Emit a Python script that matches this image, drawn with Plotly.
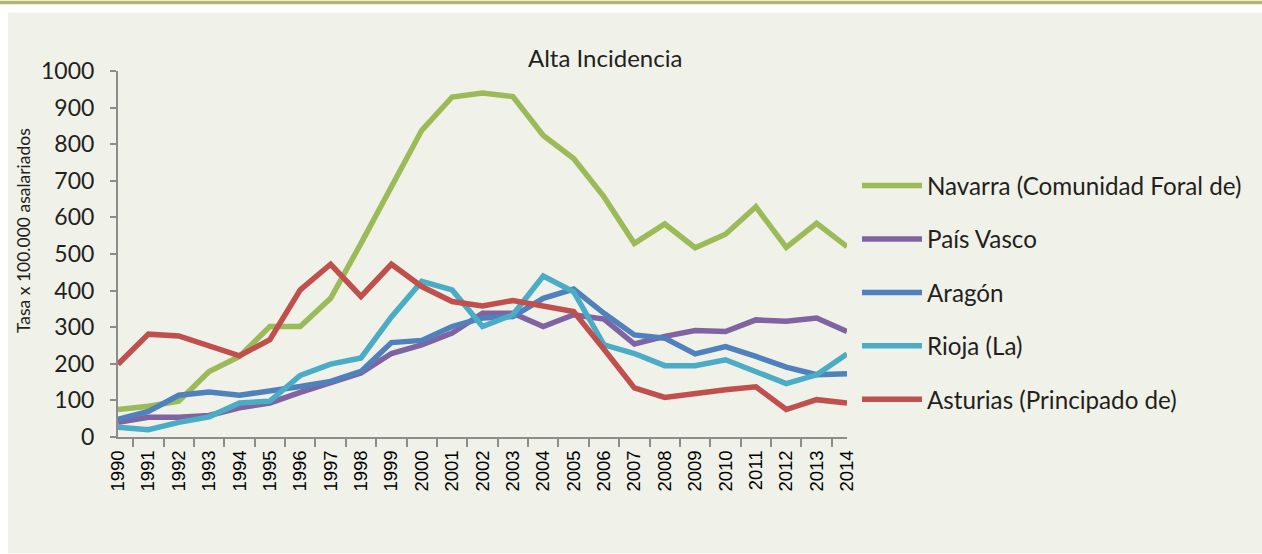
import plotly.graph_objects as go

years = [str(y) for y in range(1990, 2015)]

navarra = [75, 84, 98, 179, 220, 302, 302, 379, 529, 683, 838, 929, 940, 930, 824, 761, 656, 529, 582, 517, 554, 629, 518, 584, 520]
pais_vasco = [40, 54, 54, 59, 80, 93, 122, 148, 175, 228, 252, 284, 338, 338, 302, 334, 322, 254, 275, 291, 288, 320, 316, 325, 288]
aragon = [48, 70, 114, 123, 114, 125, 138, 152, 179, 258, 264, 302, 325, 329, 379, 404, 338, 279, 270, 227, 247, 220, 191, 170, 173]
rioja = [27, 20, 40, 55, 93, 98, 168, 199, 216, 328, 425, 402, 302, 334, 440, 397, 252, 228, 195, 195, 211, 177, 146, 170, 227]
asturias = [199, 281, 276, 249, 222, 266, 402, 472, 384, 472, 411, 370, 358, 373, 358, 343, 240, 134, 108, 120, 129, 137, 75, 102, 93]

series_names = ["Navarra (Comunidad Foral de)", "País Vasco", "Aragón", "Rioja (La)", "Asturias (Principado de)"]
series_values = [navarra, pais_vasco, aragon, rioja, asturias]
series_colors = ["#9bbb59", "#8064a2", "#4f81bd", "#4bacc6", "#c0504d"]

y_ticks = [0, 100, 200, 300, 400, 500, 600, 700, 800, 900, 1000]

TXT = "#231f20"
FONT = "Lato"
PANEL = "#f0f1e8"

fig = go.Figure()
for name, vals, col in zip(series_names, series_values, series_colors):
    fig.add_trace(go.Scatter(
        x=years, y=vals, mode="lines", name=name, legendgroup=name,
        line=dict(color=col, width=5.5),
    ))

W, H = 1262, 554
L, R, T, B = 118, 415, 70.5, 116.5
pw = W - L - R
ph = H - T - B

def px_x(x):
    return (x - L) / pw

def px_y(y):
    return (H - B - y) / ph

shapes = [
    dict(type="rect", xref="paper", yref="paper", x0=px_x(8), x1=px_x(W), y0=px_y(H), y1=px_y(12),
         fillcolor=PANEL, line=dict(width=0), layer="below"),
    dict(type="rect", xref="paper", yref="paper", x0=px_x(0), x1=px_x(W), y0=px_y(3.5), y1=px_y(0),
         fillcolor="#b3b66e", line=dict(width=0), layer="below"),
]

annotations = [
    dict(text="Alta Incidencia", xref="paper", yref="paper", x=px_x(605), y=px_y(57),
         xanchor="center", yanchor="middle", showarrow=False,
         font=dict(family=FONT, size=24, color=TXT)),
    dict(text="Tasa x 100.000 asalariados", xref="paper", yref="paper", x=px_x(23), y=px_y(231),
         xanchor="center", yanchor="middle", showarrow=False, textangle=-90,
         font=dict(family=FONT, size=17.5, color=TXT)),
]

fig.update_layout(
    width=W, height=H,
    margin=dict(l=L, r=R, t=T, b=B, pad=0),
    paper_bgcolor="white",
    plot_bgcolor="rgba(0,0,0,0)",
    shapes=shapes,
    annotations=annotations,
    showlegend=True,
    legend=dict(
        x=px_x(857), y=px_y(163), xanchor="left", yanchor="top",
        font=dict(family=FONT, size=24.2, color=TXT),
        bgcolor="rgba(0,0,0,0)", tracegroupgap=19, itemwidth=60,
        traceorder="grouped",
    ),
    xaxis=dict(
        type="category", categoryorder="array", categoryarray=years,
        showgrid=False, zeroline=False,
        showline=True, linecolor="#8c8c8c", linewidth=2,
        ticks="outside", tickson="boundaries", ticklen=8, tickwidth=2, tickcolor="#8c8c8c",
        tickangle=-90, ticklabelstandoff=4,
        tickfont=dict(family="Liberation Sans", size=18.5, color="black"),
    ),
    yaxis=dict(
        range=[0, 1000], tickmode="array", tickvals=y_ticks, ticktext=[str(v) for v in y_ticks],
        showgrid=False, zeroline=False,
        showline=True, linecolor="#8c8c8c", linewidth=2,
        ticks="outside", ticklen=6, tickwidth=2, tickcolor="#8c8c8c",
        ticklabelstandoff=11,
        tickfont=dict(family=FONT, size=23, color=TXT),
    ),
)

post_js = (
    "document.documentElement.style.margin='0px';"
    "document.documentElement.style.overflow='hidden';"
    "document.documentElement.style.background='" + PANEL + "';"
    "document.body.style.margin='0px';"
    "document.body.style.overflow='hidden';"
    "document.body.style.background='" + PANEL + "';"
    "var st=document.createElement('style');"
    "st.textContent='.modebar-container{display:none !important;}';"
    "document.head.appendChild(st);"
)

fig.write_html("out.html", post_script=post_js)
